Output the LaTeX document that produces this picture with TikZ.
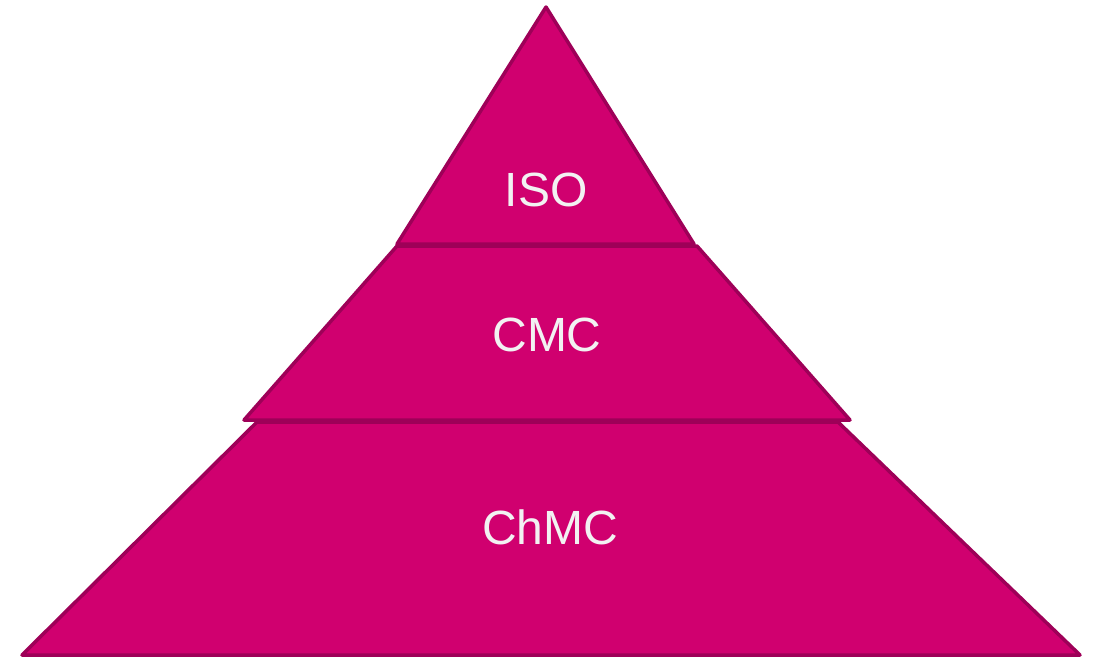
\documentclass[tikz,border=0pt]{standalone}
\usepackage{fontspec}
\setmainfont{Liberation Sans}
\definecolor{tierfill}{HTML}{D0006F}
\definecolor{tierline}{HTML}{9E0058}
\definecolor{tiertext}{HTML}{F2F2F2}

\begin{document}
\begin{tikzpicture}[x=1pt,y=-1pt]
    \tikzset{tier/.style={fill=tierfill,draw=tierline,line width=3.5pt,line join=round},
             tierlabel/.style={text=tiertext,font=\fontsize{48}{58}\selectfont}}
    \useasboundingbox (0,0) rectangle (1102,657);
    % bottom tier
    \draw[tier] (22,655) -- (257,422) -- (838,422) -- (1080,655) -- cycle;
    % middle tier
    \draw[tier] (244,420) -- (397,246) -- (697,246) -- (850,420) -- cycle;
    % top tier
    \draw[tier] (397,244) -- (546,7) -- (694,244) -- cycle;
    \node[tierlabel] (iso) at (546,190) {ISO};
    \node[tierlabel] (cmc) at (547,335) {CMC};
    \node[tierlabel] (chmc) at (550,527) {ChMC};
\end{tikzpicture}
\end{document}
